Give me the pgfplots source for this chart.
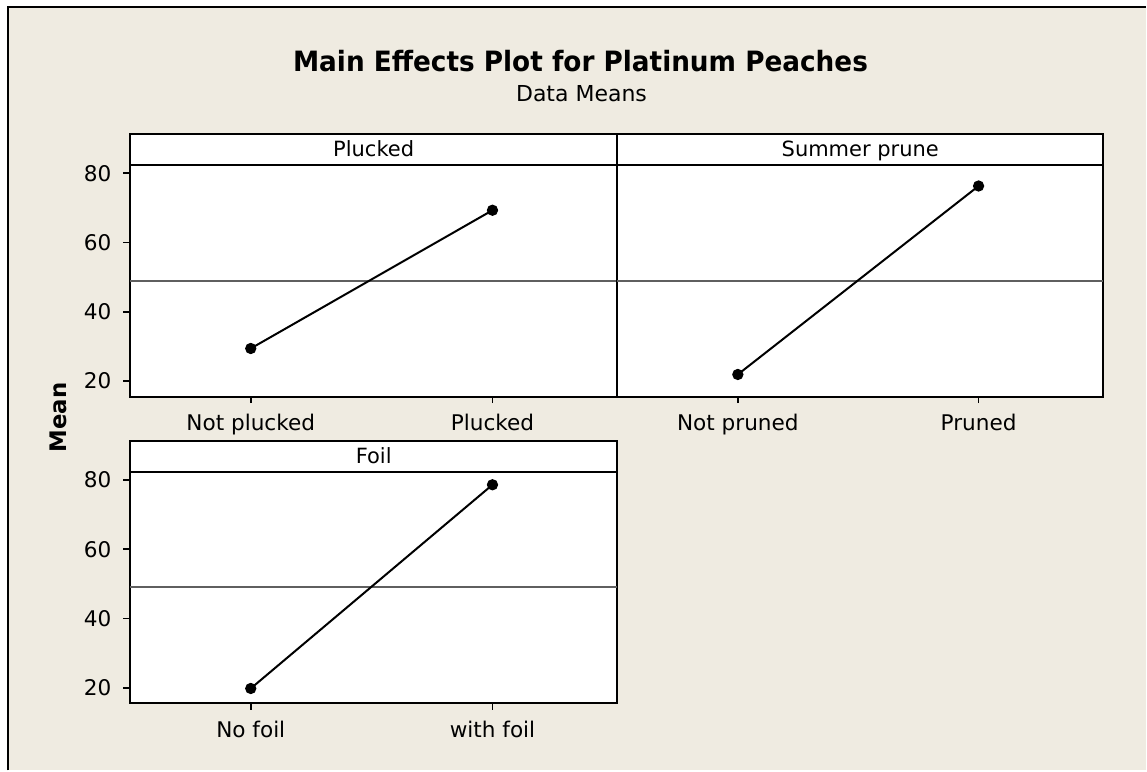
\documentclass[border=0pt]{standalone}
\usepackage{pgfplots}
\pgfplotsset{compat=1.18}
\usepackage{fontspec}
\setmainfont{DejaVu Sans}
\definecolor{bgbeige}{RGB}{239,235,225}
\definecolor{meangray}{RGB}{95,95,95}
\pgfplotsset{
  panel/.style={
    scale only axis, width=244pt, height=116pt,
    xmin=-0.5, xmax=1.517, ymin=15.5, ymax=82.4,
    xtick={0,1}, ytick={20,40,60,80},
    xtick pos=bottom, ytick pos=left,
    axis line style={line width=1pt},
    every tick/.style={black, line width=0.8pt},
    tick align=outside, major tick length=3.2pt,
    axis background/.style={fill=white},
    clip=false,
    tick label style={font=\fontsize{10.8}{13}\selectfont},
    xticklabel style={yshift=-2pt},
    yticklabel style={xshift=-2.5pt},
  },
  meanline/.style={meangray, line width=1pt},
  dataline/.style={black, line width=1pt, mark=*, mark size=2.3pt, mark options={fill=black}},
}
\newcommand{\strip}[1]{%
  \draw[line width=1pt, fill=white] (rel axis cs:0,1) rectangle ([yshift=15.5pt]rel axis cs:1,1);
  \node[font=\fontsize{10.5}{12}\selectfont, anchor=base, inner sep=0pt] at ([yshift=4pt]rel axis cs:0.5,1) {#1};}
\begin{document}
\begin{tikzpicture}
\path[fill=white] (0pt,0pt) rectangle (573.5pt,385.5pt);
\path[fill=bgbeige] (4pt,0pt) rectangle (573.5pt,382pt);
\draw[line width=1pt] (4pt,0pt) -- (4pt,382pt) -- (573.5pt,382pt);
\node[font=\bfseries\fontsize{14}{17}\selectfont, xscale=0.94] at (290.5pt,355pt) {Main Effects Plot for Platinum Peaches};
\node[font=\fontsize{11}{13}\selectfont] at (291pt,338.5pt) {Data Means};
\node[font=\bfseries\fontsize{11.4}{13}\selectfont, rotate=90] at (29pt,176.5pt) {Mean};
% Panel 1
\begin{axis}[panel, at={(65pt,187pt)}, anchor=south west,
  xticklabels={Not plucked,Plucked}, yticklabels={20,40,60,80}]
\addplot[meanline] coordinates {(-0.5,49.0) (1.517,49.0)};
\addplot[dataline] coordinates {(0,29.4) (1,69.3)};
\strip{Plucked}
\end{axis}
% Panel 2
\begin{axis}[panel, at={(309pt,187pt)}, anchor=south west, width=243pt,
  xticklabels={Not pruned,Pruned}, ytick=\empty]
\addplot[meanline] coordinates {(-0.5,49.0) (1.517,49.0)};
\addplot[dataline] coordinates {(0,21.9) (1,76.3)};
\strip{Summer prune}
\end{axis}
% Panel 3
\begin{axis}[panel, at={(65pt,33.5pt)}, anchor=south west,
  xticklabels={No foil,with foil}, yticklabels={20,40,60,80}]
\addplot[meanline] coordinates {(-0.5,49.0) (1.517,49.0)};
\addplot[dataline] coordinates {(0,19.8) (1,78.6)};
\strip{Foil}
\end{axis}
\end{tikzpicture}
\end{document}
